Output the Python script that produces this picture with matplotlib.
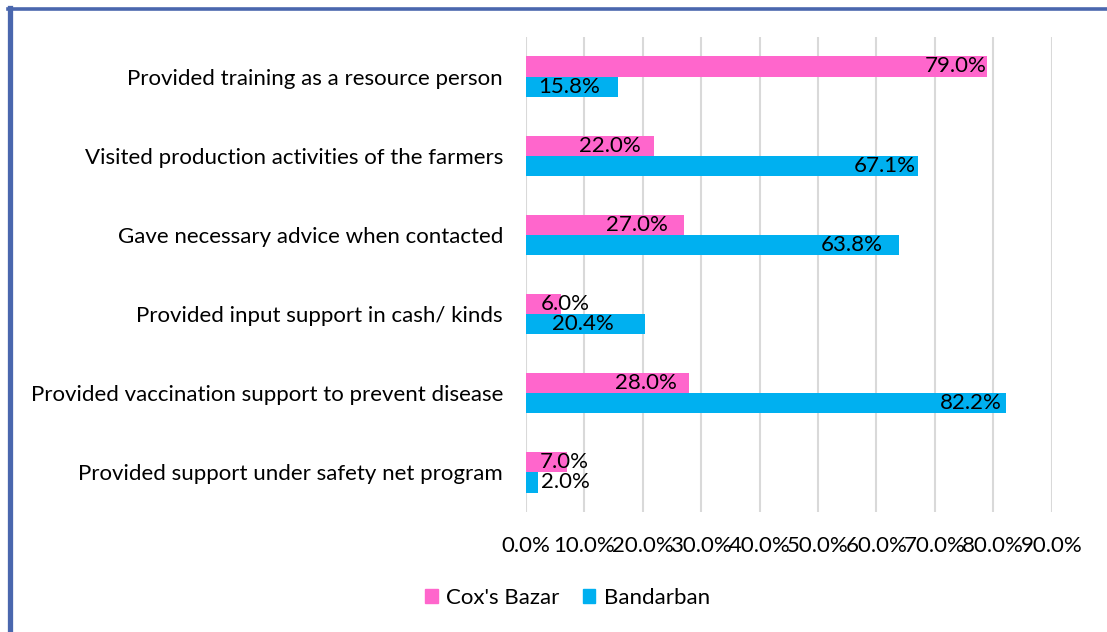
import numpy as np
import matplotlib.pyplot as plt
from matplotlib.lines import Line2D
from matplotlib.patches import Patch

plt.rcParams['font.family'] = ['Lato', 'DejaVu Sans']

categories = ["Provided training as a resource person",
              "Visited production activities of the farmers",
              "Gave necessary advice when contacted",
              "Provided input support in cash/ kinds",
              "Provided vaccination support to prevent disease",
              "Provided support under safety net program"]
coxs_bazar = [79.0, 22.0, 27.0, 6.0, 28.0, 7.0]
bandarban = [15.8, 67.1, 63.8, 20.4, 82.2, 2.0]
xticks = [0, 10, 20, 30, 40, 50, 60, 70, 80, 90]

# label right edge offset from bar end, in pixels (manually placed in source)
cox_off = [-1, -14, -16, 29, -13, 22]
band_off = [-18, -2, -16, -31, -4, 52]

PINK = "#FF66CC"
BLUE = "#00B0F0"
FS = 16

fig = plt.figure(figsize=(11.07, 6.32), dpi=100)
ax = fig.add_axes([0.475, 0.190, 0.475, 0.7515])

y = np.arange(len(categories))
h = 0.255
ax.barh(y - h / 2, coxs_bazar, height=h, color=PINK, label="Cox's Bazar", zorder=3)
ax.barh(y + h / 2, bandarban, height=h, color=BLUE, label="Bandarban", zorder=3)

for i in range(len(categories)):
    ax.annotate(f"{coxs_bazar[i]:.1f}%", (coxs_bazar[i], y[i] - h / 2),
                xytext=(cox_off[i], 0), textcoords="offset pixels",
                ha="right", va="center", fontsize=FS, zorder=4)
    ax.annotate(f"{bandarban[i]:.1f}%", (bandarban[i], y[i] + h / 2),
                xytext=(band_off[i], 0), textcoords="offset pixels",
                ha="right", va="center", fontsize=FS, zorder=4)

ax.set_xlim(0, 90)
ax.set_ylim(len(categories) - 0.5, -0.5)
ax.set_xticks(xticks)
ax.set_xticklabels([f"{t:.1f}%" for t in xticks], fontsize=FS)
ax.set_yticks(y)
ax.set_yticklabels(categories, fontsize=FS)
ax.tick_params(axis="x", length=0, pad=17)
ax.tick_params(axis="y", length=0, pad=16.5)
ax.grid(axis="x", color="#D9D9D9", linewidth=1.5, zorder=0)
for s in ax.spines.values():
    s.set_visible(False)

handles = [Patch(color=PINK, label="Cox's Bazar"), Patch(color=BLUE, label="Bandarban")]
fig.legend(handles=handles, loc="center", bbox_to_anchor=(0.513, 0.054), ncol=2,
           frameon=False, fontsize=FS, handlelength=0.55, handleheight=0.55,
           handletextpad=0.4, columnspacing=1.05)

# outer frame (left and top edges)
fig.add_artist(Line2D([9.5 / 1107, 9.5 / 1107], [0, 1 - 8 / 632], color="#4A67AE",
                      linewidth=3.8, transform=fig.transFigure))
fig.add_artist(Line2D([7.6 / 1107, 1], [1 - 8.5 / 632, 1 - 8.5 / 632], color="#4A67AE",
                      linewidth=2.6, transform=fig.transFigure))

fig.savefig("out.png", dpi=100)
